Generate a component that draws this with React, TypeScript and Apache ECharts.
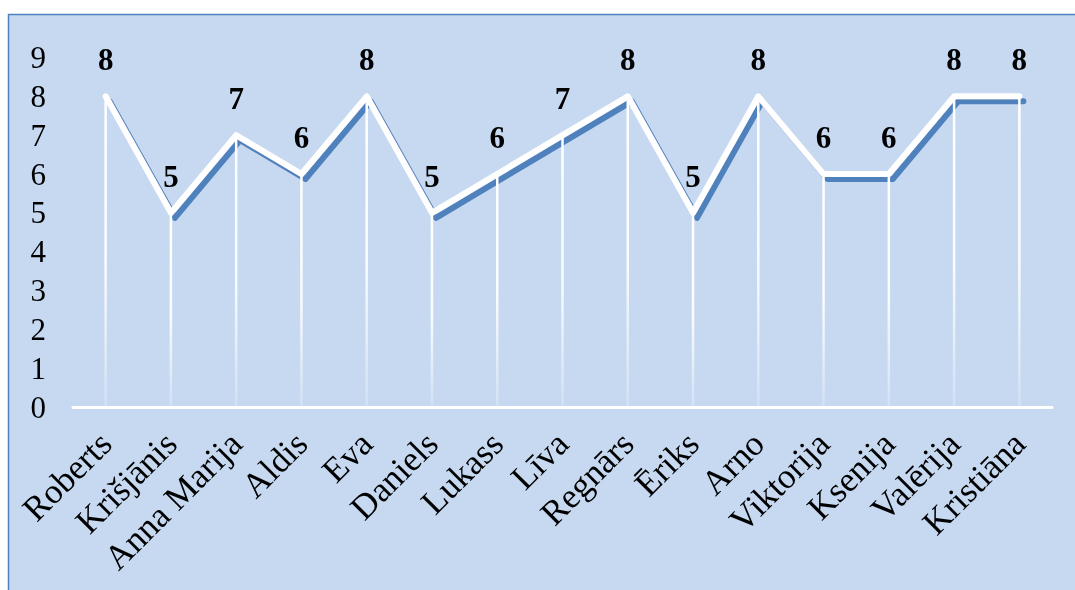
import React, { useEffect, useRef } from "react";
import * as echarts from "echarts";

const categories = [
  "Roberts", "Krišjānis", "Anna Marija", "Aldis", "Eva", "Daniels", "Lukass",
  "Līva", "Regnārs", "Ēriks", "Arno", "Viktorija", "Ksenija", "Valērija", "Kristiāna",
];
const values = [8, 5, 7, 6, 8, 5, 6, 7, 8, 5, 8, 6, 6, 8, 8];
const yMin = 0;
const yMax = 9;
const yInterval = 1;

const SERIF = "'Times New Roman', 'Liberation Serif', serif";

export default function App() {
  const ref = useRef<HTMLDivElement>(null);
  useEffect(() => {
    document.body.style.margin = "0";
    document.body.style.overflow = "hidden";
    const chart = echarts.init(ref.current!, undefined, { renderer: "svg" });
    chart.setOption({
      animation: false,
      graphic: [
        {
          type: "rect",
          z: -10,
          silent: true,
          shape: { x: 8.5, y: 14.5, width: 1100, height: 600 },
          style: { fill: "#c6d9f1", stroke: "#4f81bd", lineWidth: 1.5 },
        },
      ],
      grid: { left: 73, right: 23, top: 57.5, bottom: 183, containLabel: false },
      xAxis: {
        type: "category",
        data: categories,
        boundaryGap: true,
        axisLine: { show: true, lineStyle: { color: "#ffffff", width: 3 } },
        axisTick: { show: false },
        splitLine: { show: false },
        axisLabel: {
          rotate: 45,
          interval: 0,
          margin: 31,
          padding: [16, 0, 0, 0],
          color: "#000",
          fontFamily: SERIF,
          fontSize: 35,
        },
      },
      yAxis: {
        type: "value",
        min: yMin,
        max: yMax,
        interval: yInterval,
        axisLine: { show: false },
        axisTick: { show: false },
        splitLine: { show: false },
        axisLabel: {
          margin: 27,
          color: "#000",
          fontFamily: SERIF,
          fontSize: 31,
        },
      },
      series: [
        {
          type: "line",
          data: values,
          z: 2,
          symbol: "circle",
          symbolSize: 0.1,
          showSymbol: true,
          itemStyle: { color: "rgba(255,255,255,0)" },
          lineStyle: {
            color: "#ffffff",
            width: 6,
            cap: "round",
            join: "round",
            shadowColor: "#4f81bd",
            shadowBlur: 0,
            shadowOffsetX: 4,
            shadowOffsetY: 5,
          },
          label: {
            show: true,
            position: "top",
            distance: 21,
            color: "#000",
            fontFamily: SERIF,
            fontWeight: "bold",
            fontSize: 31,
          },
        },
        {
          type: "bar",
          data: values,
          z: 3,
          barWidth: 2.5,
          silent: true,
          itemStyle: {
            color: new echarts.graphic.LinearGradient(0, 0, 0, 1, [
              { offset: 0, color: "rgba(255,255,255,1)" },
              { offset: 0.55, color: "rgba(255,255,255,0.9)" },
              { offset: 1, color: "rgba(255,255,255,0.2)" },
            ]),
          },
        },
      ],
    });
    return () => chart.dispose();
  }, []);
  return (
    <div
      ref={ref}
      style={{ position: "fixed", left: 0, top: 0, width: 1075, height: 590 }}
    />
  );
}
